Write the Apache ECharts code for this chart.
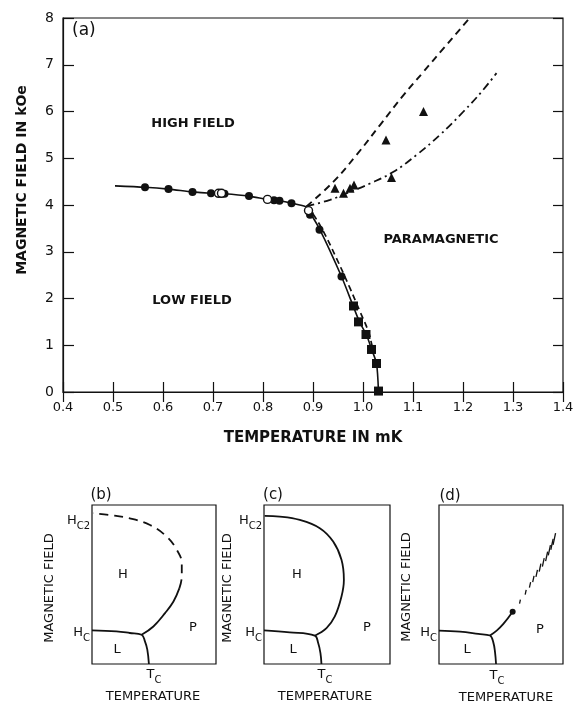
<!DOCTYPE html>
<html>
<head>
<meta charset="utf-8" />
<title></title>
<script type="text/javascript" src="https://cdn.jsdelivr.net/npm/echarts@6/dist/echarts.min.js"></script>
<style>html,body{margin:0;padding:0;background:#fff;}</style>
</head>
<body>
<div id="chart" style="width:577px;height:703px;"></div>
<script type="text/javascript">
// panel (a): measured points, T in mK, H in kOe
var filledCircles = [[0.564,4.38],[0.611,4.34],[0.659,4.28],[0.696,4.25],[0.723,4.24],[0.772,4.19],
	[0.822,4.10],[0.833,4.09],[0.857,4.04],[0.894,3.79],[0.913,3.47],[0.957,2.47]];
var openCircles = [[0.711,4.25],[0.717,4.25],[0.809,4.12],[0.891,3.88]];
var squares = [[0.981,1.84],[0.991,1.50],[1.006,1.23],[1.017,0.91],[1.027,0.61],[1.031,0.02]];
var triangles = [[0.944,4.36],[0.961,4.25],[0.974,4.36],[0.982,4.43],[1.046,5.39],[1.057,4.59],[1.121,6.00]];

// phase boundaries of (a)
var solidBoundary = [[0.504,4.41],[0.564,4.38],[0.611,4.34],[0.659,4.28],[0.696,4.25],[0.723,4.24],
	[0.772,4.19],[0.809,4.12],[0.833,4.09],[0.857,4.04],[0.887,3.96],[0.891,3.89],[0.914,3.47],
	[0.957,2.47],[0.981,1.82],[0.993,1.50],[1.007,1.22],[1.017,0.92],[1.027,0.61],[1.031,0]];
var dashedUpper = [[0.887,3.97],[0.941,4.50],[0.987,5.07],[1.034,5.71],[1.081,6.35],[1.121,6.85],
	[1.161,7.35],[1.207,7.92],[1.213,8.0]];
var dashDot = [[0.887,3.97],[0.934,4.11],[0.974,4.28],[1.014,4.46],[1.061,4.71],[1.107,5.07],
	[1.154,5.50],[1.201,6.00],[1.237,6.42],[1.267,6.82]];
var dashedLower = [[0.887,3.97],[0.901,3.79],[0.921,3.43],[0.947,2.86],[0.974,2.22],[0.994,1.72],
	[1.011,1.29],[1.017,1.04],[1.020,0.90]];

// sketches (b), (c), (d) in 0..1 units of each box
var bLow = [[0,0.211],[0.197,0.205],[0.305,0.195],[0.4,0.184],[0.427,0.142],[0.446,0.09],[0.459,0]];
var bSolid = [[0.4,0.184],[0.495,0.236],[0.589,0.32],[0.657,0.393],[0.705,0.477]];
var bDashed = [[0.705,0.477],[0.724,0.55],[0.724,0.634],[0.684,0.718],[0.603,0.801],[0.468,0.874],
	[0.305,0.916],[0.143,0.937],[0.008,0.948]];
var cLow = [[0,0.211],[0.204,0.199],[0.403,0.178],[0.43,0.132],[0.448,0.069],[0.456,0]];
var cArc = [[0.403,0.178],[0.496,0.226],[0.562,0.299],[0.615,0.425],[0.634,0.529],[0.615,0.655],
	[0.549,0.77],[0.443,0.854],[0.284,0.906],[0.125,0.927],[0.005,0.931]];
var dLow = [[0,0.21],[0.169,0.203],[0.317,0.189],[0.411,0.179],[0.438,0.136],[0.452,0.073],[0.46,0]];
var dSolid = [[0.411,0.179],[0.465,0.21],[0.519,0.252],[0.594,0.329]];
var dEnd = [[0.594,0.329]];
var dHatch = [[0.653,0.392],[0.699,0.451],[0.734,0.497],[0.761,0.535],[0.788,0.570],[0.815,0.606],
	[0.841,0.639],[0.868,0.677],[0.890,0.715],[0.911,0.753],[0.930,0.786]];

var ink = '#111';
var font = 'DejaVu Sans';

function txt(x, y, s, size, bold, align, rot) {
	return {
		type: 'text', x: x, y: y, rotation: rot || 0, silent: true,
		style: {
			text: s, fill: ink, fontFamily: font, fontSize: size,
			fontWeight: bold ? 'bold' : 'normal',
			textAlign: align || 'center', textVerticalAlign: 'middle'
		}
	};
}
// label with a subscript, e.g. H_C2
function sub(x, y, main, low, align) {
	return {
		type: 'text', x: x, y: y, silent: true,
		style: {
			text: '{m|' + main + '}{s|' + low + '}',
			textAlign: align || 'right', textVerticalAlign: 'middle',
			rich: {
				m: { fontFamily: font, fontSize: 13, lineHeight: 20, fill: ink, color: ink },
				s: { fontFamily: font, fontSize: 10, lineHeight: 10, verticalAlign: 'bottom', fill: ink, color: ink }
			}
		}
	};
}

function sketchAxes(i) {
	return {
		x: { type: 'value', gridIndex: i, min: 0, max: 1, show: false },
		y: { type: 'value', gridIndex: i, min: 0, max: 1, show: false }
	};
}
function curve(data, i, dash) {
	return {
		type: 'line', xAxisIndex: i, yAxisIndex: i, data: data, smooth: 0.4,
		showSymbol: false, silent: true,
		lineStyle: { color: ink, width: 1.8, type: dash ? [9, 6] : 'solid' }
	};
}

var boxStyle = { show: true, borderColor: ink, borderWidth: 1.2, backgroundColor: 'transparent' };
var sb = sketchAxes(1), sc = sketchAxes(2), sd = sketchAxes(3);

var chart = echarts.init(document.getElementById('chart'));
chart.setOption({
	backgroundColor: '#fff',
	animation: false,
	grid: [
		Object.assign({ left: 63, top: 18, width: 500, height: 374 }, boxStyle),
		Object.assign({ left: 92, top: 505, width: 124, height: 159 }, boxStyle),
		Object.assign({ left: 264, top: 505, width: 126, height: 159 }, boxStyle),
		Object.assign({ left: 439, top: 505, width: 124, height: 159 }, boxStyle)
	],
	xAxis: [
		{
			type: 'value', gridIndex: 0, min: 0.4, max: 1.4, interval: 0.1,
			axisLine: { show: true, lineStyle: { color: ink, width: 1.2 } },
			axisTick: { inside: true, length: 10, lineStyle: { color: ink, width: 1.2 } },
			axisLabel: { color: ink, fontFamily: font, fontSize: 13, margin: 9,
				formatter: function (v) { return v.toFixed(1); } },
			splitLine: { show: false }
		},
		{
			type: 'value', gridIndex: 0, position: 'top', min: 0.4, max: 1.4, interval: 0.1,
			axisLine: { show: false },
			axisTick: { inside: true, length: 10, lineStyle: { color: ink, width: 1.2 } },
			axisLabel: { show: false }, splitLine: { show: false }
		},
		sb.x, sc.x, sd.x
	],
	yAxis: [
		{
			type: 'value', gridIndex: 0, min: 0, max: 8, interval: 1,
			axisLine: { show: true, lineStyle: { color: ink, width: 1.2 } },
			axisTick: { show: true, inside: true, length: 11, lineStyle: { color: ink, width: 1.2 } },
			axisLabel: { color: ink, fontFamily: font, fontSize: 14, margin: 9 },
			splitLine: { show: false }
		},
		{
			type: 'value', gridIndex: 0, position: 'right', min: 0, max: 8, interval: 1,
			axisLine: { show: false },
			axisTick: { show: true, inside: true, length: 10, lineStyle: { color: ink, width: 1.2 } },
			axisLabel: { show: false }, splitLine: { show: false }
		},
		sb.y, sc.y, sd.y
	],
	series: [
		{ type: 'line', data: solidBoundary, smooth: 0.25, showSymbol: false, silent: true,
			lineStyle: { color: ink, width: 1.6 } },
		{ type: 'line', data: dashedUpper, smooth: 0.4, showSymbol: false, silent: true,
			lineStyle: { color: ink, width: 1.9, type: [7, 5] } },
		{ type: 'line', data: dashDot, smooth: 0.4, showSymbol: false, silent: true,
			lineStyle: { color: ink, width: 1.8, type: [8, 4, 2, 4] } },
		{ type: 'line', data: dashedLower, smooth: 0.4, showSymbol: false, silent: true,
			lineStyle: { color: ink, width: 1.7, type: [6, 4] } },
		{ type: 'scatter', data: filledCircles, symbol: 'circle', symbolSize: 8, z: 5,
			itemStyle: { color: ink, opacity: 1 } },
		{ type: 'scatter', data: openCircles, symbol: 'circle', symbolSize: 8, z: 5,
			itemStyle: { color: '#fff', borderColor: ink, borderWidth: 1.4, opacity: 1 } },
		{ type: 'scatter', data: squares, symbol: 'rect', symbolSize: 9, z: 5,
			itemStyle: { color: ink, opacity: 1 } },
		{ type: 'scatter', data: triangles, symbol: 'triangle', symbolSize: 9, z: 5,
			itemStyle: { color: ink, opacity: 1 } },

		curve(bLow, 2), curve(bSolid, 2), curve(bDashed, 2, true),
		curve(cLow, 3), curve(cArc, 3),
		curve(dLow, 4), curve(dSolid, 4),
		{ type: 'scatter', xAxisIndex: 4, yAxisIndex: 4, data: dEnd, symbolSize: 6,
			itemStyle: { color: ink, opacity: 1 } },
		{ type: 'scatter', xAxisIndex: 4, yAxisIndex: 4, data: dHatch, symbol: 'rect',
			symbolSize: function (v, p) { return [1.3, 4 + p.dataIndex * 0.8]; },
			symbolRotate: -12, itemStyle: { color: ink, opacity: 1 } }
	],
	graphic: [
		txt(72, 31, '(a)', 17, false, 'left'),
		txt(193, 124, 'HIGH FIELD', 13, true),
		txt(192, 301, 'LOW FIELD', 13, true),
		txt(441, 240, 'PARAMAGNETIC', 13, true),
		txt(22, 180, 'MAGNETIC FIELD IN kOe', 14, true, 'center', Math.PI / 2),
		txt(313, 438, 'TEMPERATURE IN mK', 15, true),

		txt(101, 495, '(b)', 15), txt(273, 495, '(c)', 15), txt(450, 496, '(d)', 15),
		txt(50, 588, 'MAGNETIC FIELD', 13, false, 'center', Math.PI / 2),
		txt(228, 588, 'MAGNETIC FIELD', 13, false, 'center', Math.PI / 2),
		txt(407, 587, 'MAGNETIC FIELD', 13, false, 'center', Math.PI / 2),
		txt(153, 697, 'TEMPERATURE', 13), txt(325, 697, 'TEMPERATURE', 13), txt(506, 698, 'TEMPERATURE', 13),
		sub(90, 521, 'H', 'C2'), sub(90, 633, 'H', 'C'),
		sub(262, 521, 'H', 'C2'), sub(262, 633, 'H', 'C'),
		sub(437, 633, 'H', 'C'),
		sub(154, 675, 'T', 'C', 'center'), sub(325, 675, 'T', 'C', 'center'), sub(497, 676, 'T', 'C', 'center'),
		txt(123, 575, 'H', 13), txt(117, 650, 'L', 13), txt(193, 628, 'P', 13),
		txt(297, 575, 'H', 13), txt(293, 650, 'L', 13), txt(367, 628, 'P', 13),
		txt(467, 650, 'L', 13), txt(540, 630, 'P', 13)
	]
});
</script>
</body>
</html>
